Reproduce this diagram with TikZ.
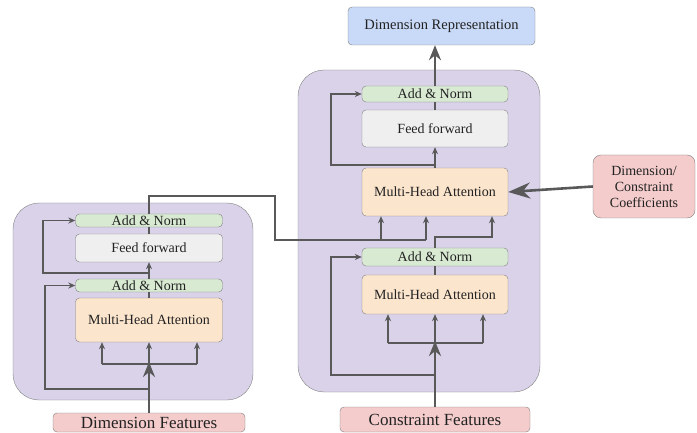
\documentclass[tikz,border=0pt]{standalone}
\usepackage{fontspec}
\setmainfont{Liberation Serif}
\usetikzlibrary{arrows.meta}
\definecolor{boxline}{HTML}{808080}
\definecolor{wire}{HTML}{595959}
\definecolor{ink}{HTML}{222222}
\definecolor{lilac}{HTML}{D9D2E9}
\definecolor{mint}{HTML}{D9EAD3}
\definecolor{paper}{HTML}{EFEFEF}
\definecolor{peach}{HTML}{FCE5CD}
\definecolor{rose}{HTML}{F4CCCC}
\definecolor{sky}{HTML}{C9DAF8}
\begin{document}
\begin{tikzpicture}[x=1pt,y=-1pt]
  \tikzset{layer box/.style={draw=boxline,rounded corners=4pt,fill=#1,minimum width=147pt,inner sep=0pt,text=ink,font=\fontsize{14}{16}\selectfont},
           encoder/.style={draw=boxline,rounded corners=26pt,fill=lilac,inner sep=0pt},
           wire/.style={draw=wire,line width=1.6pt},
           conn/.style={wire,-{Stealth[length=7pt,width=6pt]}},
           big conn/.style={draw=wire,line width=2.6pt,-{Stealth[length=15pt,width=12pt]}}}
  \useasboundingbox (0,0) rectangle (697,433);

  \node [encoder,minimum width=240pt,minimum height=197pt] (lenc) at (133,301.5) {};
  \node [encoder,minimum width=242pt,minimum height=322pt] (renc) at (419,231) {};

  \node [layer box=mint,minimum height=13pt] (lan1) at (149,220.5) {Add \& Norm};
  \node [layer box=paper,minimum height=28pt] (lff) at (149,248) {Feed forward};
  \node [layer box=mint,minimum height=13pt] (lan2) at (149,285.5) {Add \& Norm};
  \node [layer box=peach,minimum height=44pt] (lmha) at (149,320) {Multi-Head Attention};
  \node [layer box=rose,minimum width=192pt,minimum height=19pt,font=\fontsize{17}{19}\selectfont] (dimf) at (149,422.5) {Dimension Features};

  \node [layer box=sky,minimum width=187pt,minimum height=38pt,font=\fontsize{14.5}{16}\selectfont] (drep) at (441.5,26) {Dimension Representation};
  \node [layer box=mint,minimum width=146pt,minimum height=16pt] (ran1) at (435,94) {Add \& Norm};
  \node [layer box=paper,minimum width=146pt,minimum height=37pt] (rff) at (435,128.5) {Feed forward};
  \node [layer box=peach,minimum width=146pt,minimum height=48pt] (rmha1) at (435,192) {Multi-Head Attention};
  \node [layer box=mint,minimum width=146pt,minimum height=18pt] (ran2) at (435,257) {Add \& Norm};
  \node [layer box=peach,minimum width=146pt,minimum height=39pt] (rmha2) at (435,294.5) {Multi-Head Attention};
  \node [layer box=rose,minimum width=190pt,minimum height=25pt,font=\fontsize{17}{19}\selectfont] (cf) at (435,419.5) {Constraint Features};
  \node [layer box=rose,minimum width=102pt,minimum height=63pt,align=center,font=\fontsize{14}{16}\selectfont,rounded corners=8pt] (coef) at (644,186.5) {Dimension/\\Constraint\\Coefficients};

  % left encoder
  \draw [big conn] (dimf.north) -- (149,362);
  \draw [wire] (102,364) -- (197,364);
  \foreach \x in {102,149,197}
    \draw [conn] (\x,364) -- (\x,364 |- lmha.south);
  \draw [conn] (149,389) -| (45,285.5) -- (lan2.west);
  \draw [wire] (lmha.north) -- (lan2.south);
  \draw [conn] (lan2.north) -- (lff.south);
  \draw [conn] (149,273) -| (43,220.5) -- (lan1.west);
  \draw [wire] (lff.north) -- (lan1.south);
  \draw [wire] (lan1.north) |- (275,196) |- (426,240);
  \foreach \x in {381,426}
    \draw [conn] (\x,240) -- (\x,240 |- rmha1.south);

  % right encoder
  \draw [big conn] (cf.north) -- (435,341);
  \draw [wire] (388,343) -- (483,343);
  \foreach \x in {388,435,483}
    \draw [conn] (\x,343) -- (\x,343 |- rmha2.south);
  \draw [conn] (435,375) -| (331,257) -- (ran2.west);
  \draw [wire] (rmha2.north) -- (ran2.south);
  \draw [conn] (ran2.north) |- (492,237) -- (492,237 |- rmha1.south);
  \draw [conn] (rmha1.north) -- (rff.south);
  \draw [conn] (435,165) -| (331,94) -- (ran1.west);
  \draw [wire] (rff.north) -- (ran1.south);
  \draw [big conn] (ran1.north) -- (drep.south -| ran1.north);
  \draw [big conn,-{Stealth[length=22pt,width=16pt,inset=7pt]}] (coef.west) -- (rmha1.east);
\end{tikzpicture}
\end{document}
